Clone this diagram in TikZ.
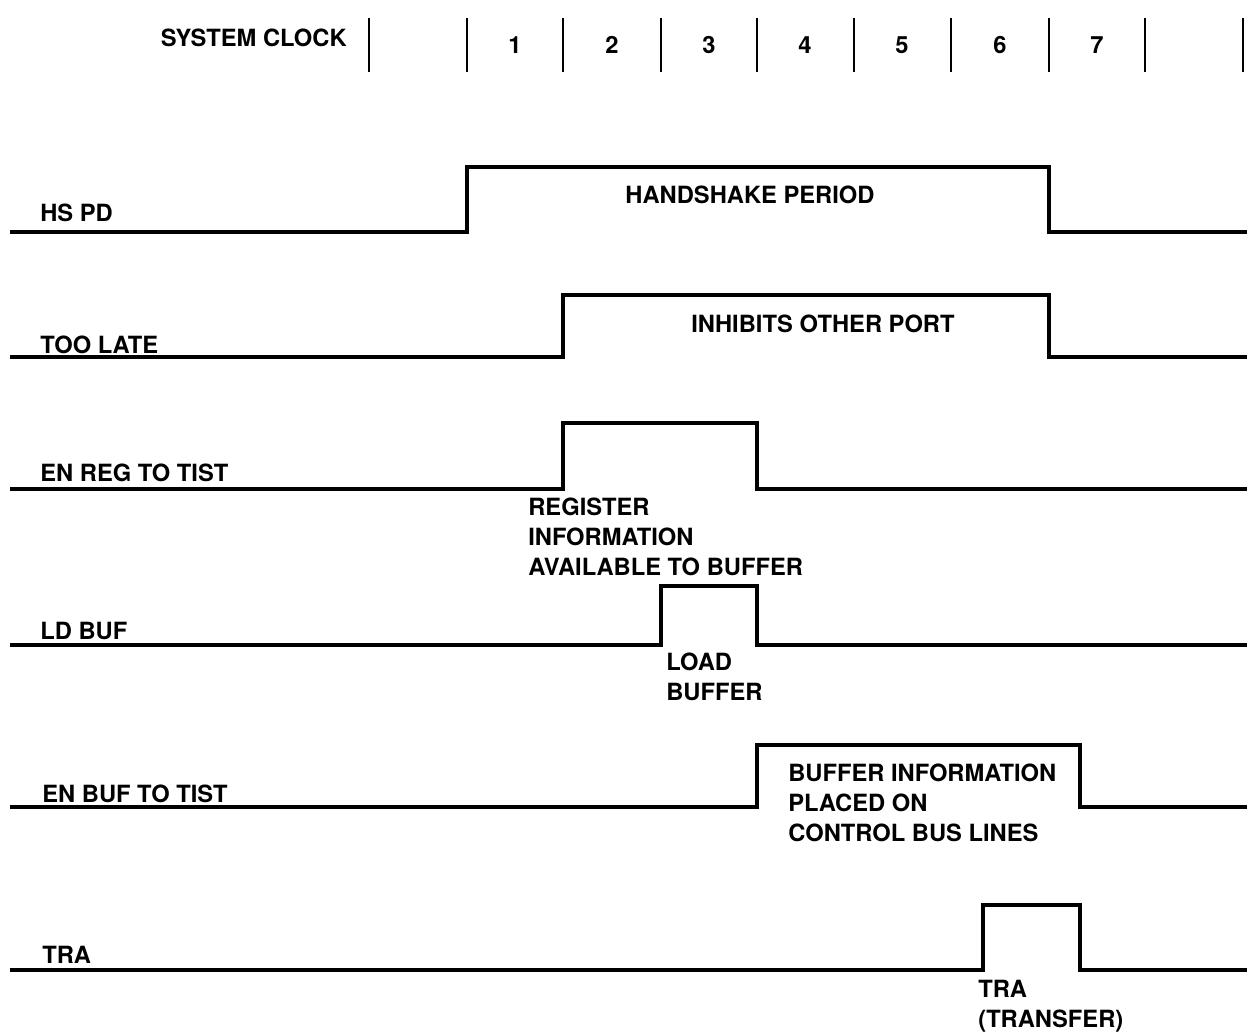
\documentclass[tikz,border=0pt]{standalone}
\usepackage{fontspec}
\setmainfont{TeX Gyre Heros}
\tikzset{
  sig/.style={line width=2pt, line join=miter, line cap=butt},
  tick/.style={line width=1.6pt},
  txt/.style={font=\fontsize{13.5}{17}\selectfont\bfseries, inner sep=0pt, align=left}
}
\begin{document}
\begin{tikzpicture}[x=0.02cm, y=-0.02cm]

  \useasboundingbox (0,0) rectangle (1249,1032);

  % --- System clock ---
  \node[txt, anchor=east] (sysclk) at (347,38) {SYSTEM CLOCK};
  \foreach \x in {369,467,563,661,757,854,951,1049,1145,1243} {
    \draw[tick] (\x,18) -- (\x,72);
  }
  \foreach \n/\x in {1/515,2/612,3/709,4/805,5/902,6/1000,7/1097} {
    \node[txt] (clk\n) at (\x,45) {\n};
  }

  % --- HS PD ---
  \draw[sig] (10,232) -- (467,232) -- (467,167) -- (1049,167) -- (1049,232) -- (1247,232);
  \node[txt, anchor=base west] (hspd) at (40,221) {HS PD};
  \node[txt] (hsper) at (750,195) {HANDSHAKE PERIOD};

  % --- TOO LATE ---
  \draw[sig] (10,357) -- (563,357) -- (563,295) -- (1049,295) -- (1049,357) -- (1247,357);
  \node[txt, anchor=base west] (late) at (40,353) {TOO LATE};
  \node[txt] (inhib) at (823,324) {INHIBITS OTHER PORT};

  % --- EN REG TO TIST ---
  \draw[sig] (10,489) -- (563,489) -- (563,423) -- (757,423) -- (757,489) -- (1247,489);
  \node[txt, anchor=base west] (enreg) at (40,481) {EN REG TO TIST};
  \node[txt, anchor=north west] (reginfo) at (528,498)
      {REGISTER\\INFORMATION\\AVAILABLE TO BUFFER};

  % --- LD BUF ---
  \draw[sig] (10,645) -- (661,645) -- (661,586) -- (757,586) -- (757,645) -- (1247,645);
  \node[txt, anchor=base west] (ldbuf) at (40,639) {LD BUF};
  \node[txt, anchor=north west] (load) at (666,653) {LOAD\\BUFFER};

  % --- EN BUF TO TIST ---
  \draw[sig] (10,807) -- (757,807) -- (757,745) -- (1080,745) -- (1080,807) -- (1247,807);
  \node[txt, anchor=base west] (enbuf) at (42,802) {EN BUF TO TIST};
  \node[txt, anchor=north west] (bufinfo) at (788,764)
      {BUFFER INFORMATION\\PLACED ON\\CONTROL BUS LINES};

  % --- TRA ---
  \draw[sig] (10,970) -- (983,970) -- (983,905) -- (1080,905) -- (1080,970) -- (1247,970);
  \node[txt, anchor=base west] (tra) at (42,963) {TRA};
  \node[txt, anchor=north west] (trans) at (978,980) {TRA\\(TRANSFER)};

\end{tikzpicture}
\end{document}
